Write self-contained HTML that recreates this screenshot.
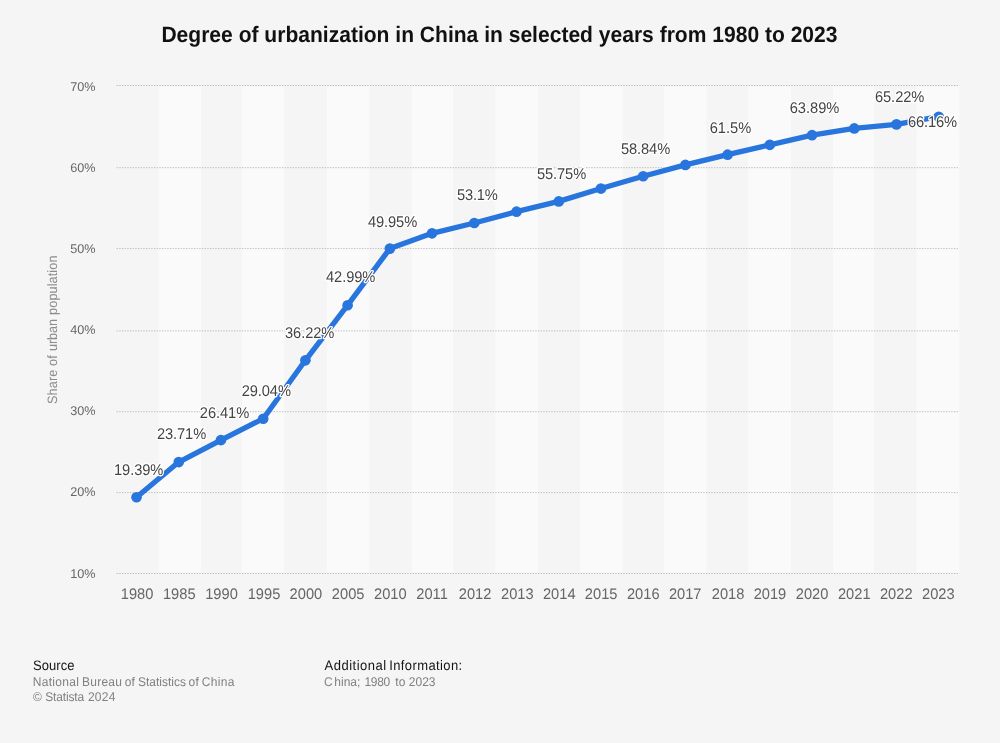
<!DOCTYPE html>
<html lang="en"><head><meta charset="utf-8"><title>Degree of urbanization in China in selected years from 1980 to 2023</title>
<style>html,body{margin:0;padding:0;background:#f5f5f5;}body{width:1000px;height:743px;overflow:hidden;font-family:"Liberation Sans",sans-serif;}svg{display:block;will-change:transform;}text{font-family:"Liberation Sans",sans-serif;text-rendering:geometricPrecision;white-space:pre;}</style></head><body>
<svg width="1000" height="743" viewBox="0 0 1000 743">
<rect x="0" y="0" width="1000" height="743" fill="#f5f5f5"/>
<g fill="#fafafa">
<rect x="158.75" y="86.6" width="42.25" height="485.8"/>
<rect x="242.00" y="86.6" width="42.25" height="485.8"/>
<rect x="327.00" y="86.6" width="42.25" height="485.8"/>
<rect x="411.75" y="86.6" width="41.25" height="485.8"/>
<rect x="495.25" y="86.6" width="42.50" height="485.8"/>
<rect x="580.00" y="86.6" width="42.75" height="485.8"/>
<rect x="663.75" y="86.6" width="42.75" height="485.8"/>
<rect x="748.10" y="86.6" width="42.90" height="485.8"/>
<rect x="833.00" y="86.6" width="41.25" height="485.8"/>
<rect x="916.75" y="86.6" width="42.50" height="485.8"/>
</g>
<g stroke="#b6b6b6" stroke-width="1" stroke-dasharray="1.22 1.4467" fill="none">
<path d="M116.6 85.50 H959.3"/>
<path d="M116.6 167.70 H959.3"/>
<path d="M116.6 248.60 H959.3"/>
<path d="M116.6 330.90 H959.3"/>
<path d="M116.6 411.70 H959.3"/>
<path d="M116.6 492.60 H959.3"/>
<path d="M116.6 573.50 H959.3"/>
</g>
<text transform="translate(499.45 41.8) scale(1 1.06)" text-anchor="middle" font-size="21.05" font-weight="bold" fill="#111111">Degree of urbanization in China in selected years from 1980 to 2023</text>
<g font-size="12.67" fill="#666666" text-anchor="end">
<text x="95.6" y="90.95">70%</text>
<text x="95.6" y="172.30">60%</text>
<text x="95.6" y="253.30">50%</text>
<text x="95.6" y="334.30">40%</text>
<text x="95.6" y="415.30">30%</text>
<text x="95.6" y="496.30">20%</text>
<text x="95.6" y="578.30">10%</text>
</g>
<text transform="translate(57.40 403.40) rotate(-90) scale(1 1.07)" x="-0.55" y="0" font-size="12.67" fill="#8c8c8c" letter-spacing="0.122">Share</text>
<text transform="translate(57.40 403.40) rotate(-90) scale(1 1.07)" x="37.30" y="0" font-size="12.67" fill="#8c8c8c" letter-spacing="0.204">of</text>
<text transform="translate(57.40 403.40) rotate(-90) scale(1 1.07)" x="52.40" y="0" font-size="12.67" fill="#8c8c8c" letter-spacing="-0.102">urban</text>
<text transform="translate(57.40 403.40) rotate(-90) scale(1 1.07)" x="88.50" y="0" font-size="12.67" fill="#8c8c8c" letter-spacing="0.103">population</text>
<g font-size="14.67" fill="#666666" text-anchor="middle">
<text transform="translate(137.03 599) scale(1 1.04)">1980</text>
<text transform="translate(179.25 599) scale(1 1.04)">1985</text>
<text transform="translate(221.47 599) scale(1 1.04)">1990</text>
<text transform="translate(263.99 599) scale(1 1.04)">1995</text>
<text transform="translate(305.91 599) scale(1 1.04)">2000</text>
<text transform="translate(348.13 599) scale(1 1.04)">2005</text>
<text transform="translate(390.35 599) scale(1 1.04)">2010</text>
<text transform="translate(432.07 599) scale(1 1.04)">2011</text>
<text transform="translate(475.09 599) scale(1 1.04)">2012</text>
<text transform="translate(517.31 599) scale(1 1.04)">2013</text>
<text transform="translate(559.23 599) scale(1 1.04)">2014</text>
<text transform="translate(601.15 599) scale(1 1.04)">2015</text>
<text transform="translate(643.27 599) scale(1 1.04)">2016</text>
<text transform="translate(685.19 599) scale(1 1.04)">2017</text>
<text transform="translate(728.11 599) scale(1 1.04)">2018</text>
<text transform="translate(769.93 599) scale(1 1.04)">2019</text>
<text transform="translate(812.05 599) scale(1 1.04)">2020</text>
<text transform="translate(854.27 599) scale(1 1.04)">2021</text>
<text transform="translate(896.24 599) scale(1 1.04)">2022</text>
<text transform="translate(938.31 599) scale(1 1.04)">2023</text>
</g>
<path d="M136.53 497.21 L178.75 462.07 L220.97 440.10 L263.19 418.71 L305.41 360.30 L347.63 305.23 L389.85 248.61 L432.07 233.31 L474.29 222.98 L516.51 211.67 L558.73 201.42 L600.95 188.57 L643.17 176.29 L685.39 164.90 L727.61 154.65 L769.83 144.80 L812.05 135.20 L854.27 128.45 L896.49 124.39 L938.71 116.74" fill="none" stroke="#2875dd" stroke-width="5.33" stroke-linejoin="round" stroke-linecap="round"/>
<g fill="#2875dd">
<circle cx="136.53" cy="497.21" r="5.33"/>
<circle cx="178.75" cy="462.07" r="5.33"/>
<circle cx="220.97" cy="440.10" r="5.33"/>
<circle cx="263.19" cy="418.71" r="5.33"/>
<circle cx="305.41" cy="360.30" r="5.33"/>
<circle cx="347.63" cy="305.23" r="5.33"/>
<circle cx="389.85" cy="248.61" r="5.33"/>
<circle cx="432.07" cy="233.31" r="5.33"/>
<circle cx="474.29" cy="222.98" r="5.33"/>
<circle cx="516.51" cy="211.67" r="5.33"/>
<circle cx="558.73" cy="201.42" r="5.33"/>
<circle cx="600.95" cy="188.57" r="5.33"/>
<circle cx="643.17" cy="176.29" r="5.33"/>
<circle cx="685.39" cy="164.90" r="5.33"/>
<circle cx="727.61" cy="154.65" r="5.33"/>
<circle cx="769.83" cy="144.80" r="5.33"/>
<circle cx="812.05" cy="135.20" r="5.33"/>
<circle cx="854.27" cy="128.45" r="5.33"/>
<circle cx="896.49" cy="124.39" r="5.33"/>
<circle cx="938.71" cy="116.74" r="5.33"/>
</g>
<g stroke="#ffffff" stroke-width="2.5" stroke-linejoin="round" paint-order="stroke">
<text transform="translate(113.98 474.80) scale(1 1.06)" font-size="14.67" fill="#444444" letter-spacing="-0.066">19.39%</text>
<text transform="translate(156.91 438.90) scale(1 1.06)" font-size="14.67" fill="#444444" letter-spacing="-0.092">23.71%</text>
<text transform="translate(199.87 417.80) scale(1 1.06)" font-size="14.67" fill="#444444" letter-spacing="-0.078">26.41%</text>
<text transform="translate(241.75 395.80) scale(1 1.06)" font-size="14.67" fill="#444444" letter-spacing="-0.102">29.04%</text>
<text transform="translate(285.04 337.50) scale(1 1.06)" font-size="14.67" fill="#444444" letter-spacing="-0.092">36.22%</text>
<text transform="translate(326.07 281.80) scale(1 1.06)" font-size="14.67" fill="#444444" letter-spacing="-0.098">42.99%</text>
<text transform="translate(367.97 226.80) scale(1 1.06)" font-size="14.67" fill="#444444" letter-spacing="-0.098">49.95%</text>
<text transform="translate(456.94 199.95) scale(1 1.06)" font-size="14.67" fill="#444444" letter-spacing="-0.150">53.1%</text>
<text transform="translate(537.04 178.80) scale(1 1.06)" font-size="14.67" fill="#444444" letter-spacing="-0.112">55.75%</text>
<text transform="translate(621.04 154.00) scale(1 1.06)" font-size="14.67" fill="#444444" letter-spacing="-0.112">58.84%</text>
<text transform="translate(709.71 132.80) scale(1 1.06)" font-size="14.67" fill="#444444" letter-spacing="0.007">61.5%</text>
<text transform="translate(789.71 113.10) scale(1 1.06)" font-size="14.67" fill="#444444" letter-spacing="-0.026">63.89%</text>
<text transform="translate(874.91 102.00) scale(1 1.06)" font-size="14.67" fill="#444444" letter-spacing="-0.046">65.22%</text>
<text transform="translate(907.91 126.80) scale(1 1.06)" font-size="14.67" fill="#444444" letter-spacing="-0.106">66.16%</text>
</g>
<text transform="translate(33.09 670.00) scale(1 1.06)" font-size="13" fill="#151515" letter-spacing="0.049">Source</text>
<text transform="translate(32.65 686.00) scale(1 1.05)" font-size="12" fill="#808080" letter-spacing="0.320">National</text>
<text transform="translate(81.95 686.00) scale(1 1.05)" font-size="12" fill="#808080" letter-spacing="0.266">Bureau</text>
<text transform="translate(124.70 686.00) scale(1 1.05)" font-size="12" fill="#808080" letter-spacing="0.076">of</text>
<text transform="translate(137.95 686.00) scale(1 1.05)" font-size="12" fill="#808080">Statistics</text>
<text transform="translate(188.40 686.00) scale(1 1.05)" font-size="12" fill="#808080" letter-spacing="0.426">of</text>
<text transform="translate(201.80 686.00) scale(1 1.05)" font-size="12" fill="#808080" letter-spacing="0.305">China</text>
<text transform="translate(32.95 700.70) scale(1 1.05)" font-size="12" fill="#808080">©</text>
<text transform="translate(45.20 700.70) scale(1 1.05)" font-size="12" fill="#808080" letter-spacing="-0.164">Statista</text>
<text transform="translate(87.90 700.70) scale(1 1.05)" font-size="12" fill="#808080" letter-spacing="0.260">2024</text>
<text transform="translate(324.50 669.70) scale(1 1.06)" font-size="13" fill="#151515" letter-spacing="0.501">Additional</text>
<text transform="translate(389.18 669.70) scale(1 1.06)" font-size="13" fill="#151515" letter-spacing="0.395">Information:</text>
<text transform="translate(324.00 685.90) scale(1 1.05)" font-size="12" fill="#808080">C</text>
<text transform="translate(334.20 685.90) scale(1 1.05)" font-size="12" fill="#808080" letter-spacing="0.053">hina;</text>
<text transform="translate(364.50 685.90) scale(1 1.05)" font-size="12" fill="#808080" letter-spacing="-0.324">1980</text>
<text transform="translate(395.25 685.90) scale(1 1.05)" font-size="12" fill="#808080" letter-spacing="0.216">to</text>
<text transform="translate(408.80 685.90) scale(1 1.05)" font-size="12" fill="#808080" letter-spacing="0.010">2023</text>
</svg></body></html>
